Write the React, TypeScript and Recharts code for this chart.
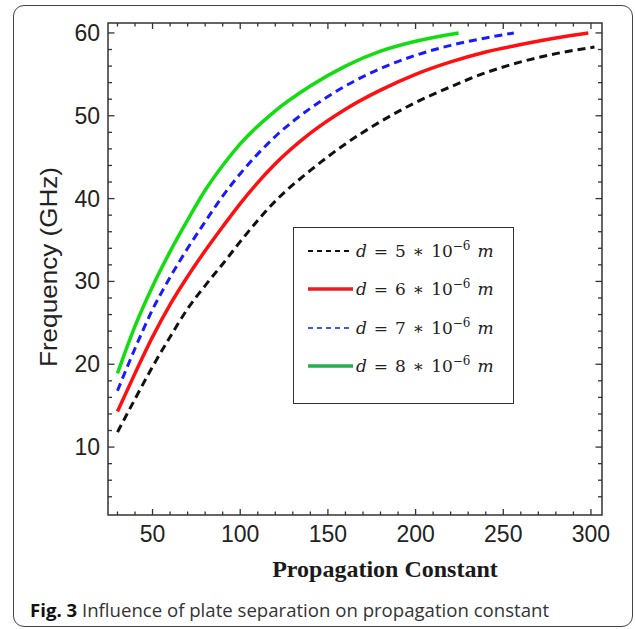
import React from "react"
import { LineChart, Line, XAxis, YAxis, ReferenceArea, Legend } from "recharts"

const xTicks = [30, 40, 50, 60, 70, 80, 90, 100, 110, 120, 130, 140, 150, 160, 170, 180, 190, 200, 210, 220, 230, 240, 250, 260, 270, 280, 290, 300]
const yTicks = [4, 6, 8, 10, 12, 14, 16, 18, 20, 22, 24, 26, 28, 30, 32, 34, 36, 38, 40, 42, 44, 46, 48, 50, 52, 54, 56, 58, 60]
const xDomain = [24.6, 306.3]
const yDomain = [1.8, 61.2]

// d = 5e-6 m
const betaD5 = [30, 40, 50, 60, 70, 80, 90, 100, 120, 140, 160, 180, 200, 220, 240, 260, 280, 302]
const freqD5 = [11.8, 15.8, 19.7, 23.3, 26.7, 29.5, 32.1, 34.8, 39.7, 43.4, 46.6, 49.3, 51.6, 53.5, 55.2, 56.5, 57.5, 58.3]
// d = 6e-6 m
const betaD6 = [30, 40, 50, 60, 70, 80, 90, 100, 120, 140, 160, 180, 200, 220, 240, 260, 280, 298.5]
const freqD6 = [14.3, 18.9, 23.3, 27.2, 30.6, 33.7, 36.6, 39.4, 44.2, 47.9, 50.8, 53.1, 55.0, 56.5, 57.7, 58.6, 59.4, 60.0]
// d = 7e-6 m
const betaD7 = [30, 40, 50, 60, 70, 80, 90, 100, 120, 140, 160, 180, 200, 220, 240, 256]
const freqD7 = [16.8, 21.9, 26.6, 30.5, 34.0, 37.2, 40.3, 43.0, 47.5, 50.9, 53.6, 55.7, 57.3, 58.5, 59.4, 60.0]
// d = 8e-6 m
const betaD8 = [30, 40, 50, 60, 70, 80, 90, 100, 120, 140, 160, 180, 200, 224.5]
const freqD8 = [18.9, 24.6, 29.4, 33.6, 37.4, 41.0, 44.0, 46.6, 50.6, 53.6, 56.0, 57.8, 59.0, 60.0]

const toPoints = (beta: number[], freq: number[]) => beta.map((b, i) => ({ beta: b, freq: freq[i] }))

const series = [
  { key: "d5", digit: "5", data: toPoints(betaD5, freqD5), color: "#111111", legendColor: "#111111", dash: "8 5", legendDash: "5 4", width: 3 },
  { key: "d6", digit: "6", data: toPoints(betaD6, freqD6), color: "#ff1010", legendColor: "#ee1c24", dash: undefined, legendDash: undefined, width: 3.5 },
  { key: "d7", digit: "7", data: toPoints(betaD7, freqD7), color: "#1a1aff", legendColor: "#3a5ae8", dash: "8 5", legendDash: "5 4", width: 3 },
  { key: "d8", digit: "8", data: toPoints(betaD8, freqD8), color: "#11dd11", legendColor: "#22b14c", dash: undefined, legendDash: undefined, width: 3.5 },
]

const AXIS = "#333333"
const TICK_FONT = "'Liberation Sans', Arial, sans-serif"
const PLOT_TOP = 23
const PLOT_LEFT = 108
const PLOT_RIGHT = 602
const PLOT_BOTTOM = 515

function XTick(props: any) {
  const { x, y, payload } = props
  const v = payload.value
  const major = v % 50 === 0
  const len = major ? 6 : 3.5
  return (
    <g>
      <line x1={x} y1={y} x2={x} y2={y - len} stroke={AXIS} strokeWidth={1.3} />
      <line x1={x} y1={PLOT_TOP} x2={x} y2={PLOT_TOP + len} stroke={AXIS} strokeWidth={1.3} />
      {major && (
        <text x={x} y={y + 27} textAnchor="middle" fontSize={23} fontFamily={TICK_FONT} fill="#222">
          {v}
        </text>
      )}
    </g>
  )
}

function YTick(props: any) {
  const { x, y, payload } = props
  const v = payload.value
  const major = v % 10 === 0
  const len = major ? 6.5 : 4
  return (
    <g>
      <line x1={x} y1={y} x2={x + len} y2={y} stroke={AXIS} strokeWidth={1.3} />
      <line x1={PLOT_RIGHT} y1={y} x2={PLOT_RIGHT - len} y2={y} stroke={AXIS} strokeWidth={1.3} />
      {major && (
        <text x={x - 8} y={y + 8} textAnchor="end" fontSize={23} fontFamily={TICK_FONT} fill="#222">
          {v}
        </text>
      )}
    </g>
  )
}

function LegendBox() {
  return (
    <div
      style={{
        width: 221,
        height: 177,
        boxSizing: "border-box",
        border: `1.5px solid ${AXIS}`,
        background: "#fff",
        paddingTop: 4,
      }}
    >
      {series.map((s) => (
        <div key={s.key} style={{ display: "flex", alignItems: "center", height: 38.3 }}>
          <svg width={62} height={10} style={{ flex: "none" }}>
            <line
              x1={14}
              x2={59}
              y1={5}
              y2={5}
              stroke={s.legendColor}
              strokeWidth={s.legendDash ? 2.2 : 3.3}
              strokeDasharray={s.legendDash}
            />
          </svg>
          <span
            style={{
              fontFamily: "'DejaVu Serif', serif",
              fontSize: 17,
              color: "#222",
              whiteSpace: "nowrap",
              wordSpacing: 1.5,
              lineHeight: "20px",
            }}
          >
            <i>d</i> = {s.digit} ∗ 10<sup style={{ fontSize: 12, verticalAlign: 7, lineHeight: 0 }}>−6</sup> <i>m</i>
          </span>
        </div>
      ))}
    </div>
  )
}

function AxisTitle() {
  return (
    <text
      transform="translate(57, 267) rotate(-90)"
      textAnchor="middle"
      fontSize={24}
      fontFamily={TICK_FONT}
      fill="#222"
      textLength={200}
      lengthAdjust="spacingAndGlyphs"
    >
      Frequency (GHz)
    </text>
  )
}

export default function App() {
  return (
    <div style={{ position: "absolute", left: 0, top: 0, width: 635, height: 629, background: "#fff" }}>
      <div
        style={{
          position: "absolute",
          left: 13,
          top: 5,
          width: 620,
          height: 622,
          border: "1.5px solid #444",
          borderRadius: 11,
          boxSizing: "border-box",
        }}
      />
      <div style={{ position: "absolute", left: 0, top: 0 }}>
        <LineChart
          width={635}
          height={629}
          margin={{ top: PLOT_TOP, right: 635 - PLOT_RIGHT, bottom: 629 - PLOT_BOTTOM - 1, left: PLOT_LEFT - 1 }}
        >
          <XAxis
            xAxisId="x"
            dataKey="beta"
            type="number"
            domain={xDomain}
            allowDataOverflow
            ticks={xTicks}
            interval={0}
            height={1}
            tickSize={0}
            tickMargin={0}
            axisLine={false}
            tick={<XTick />}
          />
          <YAxis
            yAxisId="y"
            type="number"
            domain={yDomain}
            allowDataOverflow
            ticks={yTicks}
            interval={0}
            width={1}
            tickSize={0}
            tickMargin={0}
            axisLine={false}
            tick={<YTick />}
            label={<AxisTitle />}
          />
          <ReferenceArea
            xAxisId="x"
            yAxisId="y"
            x1={xDomain[0]}
            x2={xDomain[1]}
            y1={yDomain[0]}
            y2={yDomain[1]}
            fill="none"
            stroke={AXIS}
            strokeWidth={1.5}
            ifOverflow="visible"
          />
          {series.map((s) => (
            <Line
              key={s.key}
              xAxisId="x"
              yAxisId="y"
              data={s.data}
              dataKey="freq"
              type="monotone"
              stroke={s.color}
              strokeWidth={s.width}
              strokeDasharray={s.dash}
              dot={false}
              activeDot={false}
              isAnimationActive={false}
            />
          ))}
          <Legend
            layout="horizontal"
            verticalAlign="middle"
            align="center"
            content={() => <LegendBox />}
            wrapperStyle={{ left: 293, top: 227, width: 221, height: 177 }}
          />
        </LineChart>
      </div>
      <div
        style={{
          position: "absolute",
          left: 0,
          width: 770,
          top: 556,
          textAlign: "center",
          fontFamily: "'Liberation Serif', 'Times New Roman', serif",
          fontWeight: "bold",
          fontSize: 24,
          color: "#1a1a1a",
        }}
      >
        Propagation Constant
      </div>
      <div
        style={{
          position: "absolute",
          left: 30,
          top: 597,
          fontFamily: "'Open Sans', sans-serif",
          fontSize: 18.6,
          color: "#333",
          whiteSpace: "nowrap",
        }}
      >
        <span style={{ fontWeight: "bold", color: "#111" }}>Fig. 3</span> Influence of plate separation on propagation constant
      </div>
    </div>
  )
}
